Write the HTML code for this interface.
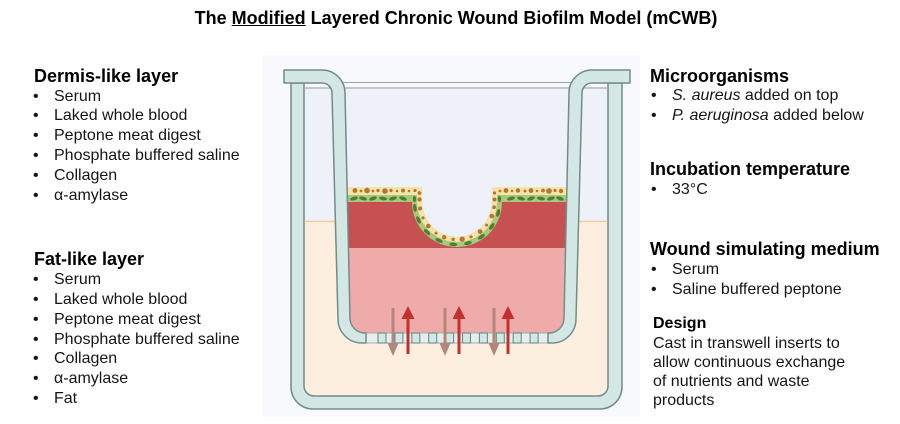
<!DOCTYPE html>
<html><head><meta charset="utf-8">
<style>
html,body{margin:0;padding:0;background:#fff;}
body{width:900px;height:424px;position:relative;overflow:hidden;font-family:"Liberation Sans",Arial,sans-serif;color:#151515;}
.t{position:absolute;left:0;width:912px;top:6.8px;text-align:center;font-weight:bold;font-size:18px;line-height:22px;color:#000;white-space:nowrap;}
.h{position:absolute;font-weight:bold;font-size:18px;line-height:22px;color:#000;white-space:nowrap;}
.h2{position:absolute;font-weight:bold;font-size:16px;line-height:20px;color:#000;white-space:nowrap;}
.lst{position:absolute;font-size:16px;line-height:19.9px;white-space:nowrap;}
.li{position:relative;padding-left:54px;}
.b{position:absolute;left:33px;top:0;}
.p{position:absolute;font-size:16px;line-height:19.1px;white-space:nowrap;}
svg{position:absolute;left:0;top:0;}
</style></head><body>
<svg width="900" height="424" viewBox="0 0 900 424">
<defs>
<clipPath id="ins"><path d="M345,83 L350,318 A15 15 0 0 0 365 333 H549 A15 15 0 0 0 564 318 L569,83 Z"/></clipPath>
</defs>
<rect x="262" y="55" width="378" height="362" fill="#f8f9fc"/>
<!-- outer well -->
<path d="M291,83 V387 A22 22 0 0 0 313 409 H600 A22 22 0 0 0 622 387 V83 Z" fill="#d3e7e5" stroke="#728c8a" stroke-width="1.5"/>
<path d="M304,83 V386 A10 10 0 0 0 314 396 H598 A10 10 0 0 0 608 386 V83 Z" fill="#fdefdf"/>
<rect x="304" y="83" width="304" height="5" fill="#f8f9fc"/>
<rect x="304" y="88" width="304" height="133" fill="#eff1f9"/>
<path d="M304,83 V386 A10 10 0 0 0 314 396 H598 A10 10 0 0 0 608 386 V83" fill="none" stroke="#728c8a" stroke-width="1.5"/>
<line x1="304" y1="88" x2="608" y2="88" stroke="#a3a9b0" stroke-width="1.2"/>
<line x1="305" y1="221.5" x2="607" y2="221.5" stroke="#f2cf9f" stroke-width="1.5"/>
<!-- insert contents -->
<g clip-path="url(#ins)">
<rect x="340" y="195" width="240" height="53" fill="#c55151"/>
<rect x="340" y="248" width="240" height="92" fill="#efabaa"/>
<path d="M340,195 H417 V202 A40 40 0 0 0 497 202 V195 H574 V202 H502 A45 45 0 0 1 412 202 H340 Z" fill="#a6c97b"/>
<path d="M340,187 H422 V202 A35 35 0 0 0 492 202 V187 H574 V195 H497 V202 A40 40 0 0 1 417 202 V195 H340 Z" fill="#f4e4aa"/>
<path d="M422,186 V202 A35 35 0 0 0 492 202 V186 Z" fill="#eff1f9"/>
<g fill="#b5772c">
<circle cx="355" cy="190.5" r="2.4"/><circle cx="361" cy="191" r="1.4"/><circle cx="367" cy="190.5" r="2.8"/><circle cx="373" cy="191" r="1.4"/><circle cx="378" cy="190.5" r="1.6"/><circle cx="385" cy="191" r="2.8"/><circle cx="391" cy="190.5" r="1.7"/><circle cx="397" cy="191" r="1.3"/><circle cx="403" cy="190.5" r="2"/><circle cx="409" cy="191" r="1.3"/><circle cx="415" cy="190.5" r="1.6"/>
<circle cx="419.5" cy="193" r="1.9"/><circle cx="419.5" cy="199.5" r="2.2"/><circle cx="494.5" cy="193" r="1.6"/><circle cx="494.5" cy="199.5" r="2"/>
<circle cx="500" cy="191" r="1.4"/><circle cx="506" cy="190.5" r="2.4"/><circle cx="512" cy="191" r="1.3"/><circle cx="518" cy="190.5" r="2.2"/><circle cx="525" cy="191" r="1.5"/><circle cx="531" cy="190.5" r="2.4"/><circle cx="537" cy="191" r="1.3"/><circle cx="543" cy="190.5" r="1.9"/><circle cx="549" cy="191" r="2.8"/><circle cx="555" cy="190.5" r="1.6"/><circle cx="561" cy="191" r="2.2"/>
<circle cx="494.1" cy="207.2" r="1.8"/><circle cx="491.8" cy="216.1" r="2.3"/><circle cx="486.6" cy="225.1" r="1.5"/><circle cx="480.1" cy="231.6" r="2.4"/><circle cx="471" cy="236.8" r="1.6"/><circle cx="462.2" cy="239.1" r="2.6"/><circle cx="453.1" cy="239.3" r="1.7"/><circle cx="444.2" cy="237.2" r="2.2"/><circle cx="436" cy="233.1" r="1.5"/><circle cx="428.3" cy="226.1" r="2.3"/><circle cx="423" cy="217.9" r="1.6"/><circle cx="420.1" cy="208.5" r="2"/>
</g>
<g fill="#4e7d34">
<ellipse cx="354" cy="198.5" rx="4" ry="1.8" transform="rotate(-15 354 198.5)"/>
<ellipse cx="363" cy="198.5" rx="4" ry="1.8" transform="rotate(15 363 198.5)"/>
<ellipse cx="373" cy="198.5" rx="4" ry="1.8" transform="rotate(-20 373 198.5)"/>
<ellipse cx="383" cy="198.5" rx="4" ry="1.8" transform="rotate(10 383 198.5)"/>
<ellipse cx="393" cy="198.5" rx="4" ry="1.8" transform="rotate(-15 393 198.5)"/>
<ellipse cx="403" cy="198.5" rx="4" ry="1.8" transform="rotate(20 403 198.5)"/>
<ellipse cx="414.5" cy="199" rx="1.6" ry="3.2" />
<ellipse cx="511" cy="198.5" rx="4" ry="1.8" transform="rotate(-15 511 198.5)"/>
<ellipse cx="521" cy="198.5" rx="4" ry="1.8" transform="rotate(15 521 198.5)"/>
<ellipse cx="531" cy="198.5" rx="4" ry="1.8" transform="rotate(-20 531 198.5)"/>
<ellipse cx="541" cy="198.5" rx="4" ry="1.8" transform="rotate(10 541 198.5)"/>
<ellipse cx="551" cy="198.5" rx="4" ry="1.8" transform="rotate(-15 551 198.5)"/>
<ellipse cx="560" cy="198.5" rx="4" ry="1.8" transform="rotate(20 560 198.5)"/>
<ellipse cx="499.5" cy="199" rx="1.6" ry="3.2" />
<ellipse cx="498.1" cy="213" rx="4" ry="1.8" transform="rotate(105 498.1 213)"/>
<ellipse cx="491.8" cy="226.4" rx="4" ry="1.8" transform="rotate(125 491.8 226.4)"/>
<ellipse cx="481.4" cy="236.8" rx="4" ry="1.8" transform="rotate(145 481.4 236.8)"/>
<ellipse cx="468" cy="243.1" rx="4" ry="1.8" transform="rotate(165 468 243.1)"/>
<ellipse cx="453.3" cy="244.3" rx="4" ry="1.8" transform="rotate(185 453.3 244.3)"/>
<ellipse cx="439" cy="240.5" rx="4" ry="1.8" transform="rotate(205 439 240.5)"/>
<ellipse cx="427" cy="232.1" rx="4" ry="1.8" transform="rotate(225 427 232.1)"/>
<ellipse cx="418.5" cy="220" rx="4" ry="1.8" transform="rotate(245 418.5 220)"/>
<ellipse cx="414.9" cy="207.9" rx="4" ry="1.8" transform="rotate(262 414.9 207.9)"/>
</g>
</g>
<!-- membrane -->
<rect x="365" y="333" width="184" height="10" fill="#e6eeec" stroke="#8fa3a1" stroke-width="0.8"/>
<g fill="#d3e7e5" stroke="#6f8b89" stroke-width="1.1">
<rect x="378" y="333" width="8" height="10"/><rect x="394.9" y="333" width="8" height="10"/><rect x="411.8" y="333" width="8" height="10"/><rect x="428.7" y="333" width="8" height="10"/><rect x="445.6" y="333" width="8" height="10"/><rect x="462.5" y="333" width="8" height="10"/><rect x="479.4" y="333" width="8" height="10"/><rect x="496.3" y="333" width="8" height="10"/><rect x="513.2" y="333" width="8" height="10"/><rect x="530.1" y="333" width="8" height="10"/>
</g>
<!-- insert walls -->
<path d="M284,70 H322 A23 23 0 0 1 345 93 L350,318 A15 15 0 0 0 365 333 H366 V343 H362 A24 24 0 0 1 338 319 L332,93 A10 10 0 0 0 322 83 H284 Z" fill="#d3e7e5" stroke="#728c8a" stroke-width="1.5" stroke-linejoin="round"/>
<path d="M630,70 H592 A23 23 0 0 0 569 93 L564,318 A15 15 0 0 1 549 333 H548 V343 H552 A24 24 0 0 0 576 319 L582,93 A10 10 0 0 1 592 83 H630 Z" fill="#d3e7e5" stroke="#728c8a" stroke-width="1.5" stroke-linejoin="round"/>
<!-- arrows -->
<g stroke="#b3867b" stroke-width="3" fill="#b3867b">
<line x1="393" y1="308" x2="393" y2="345"/><line x1="445" y1="308" x2="445" y2="345"/><line x1="494" y1="308" x2="494" y2="345"/>
</g>
<g fill="#b3867b">
<polygon points="387.5,343 398.5,343 393,356"/><polygon points="439.5,343 450.5,343 445,356"/><polygon points="488.5,343 499.5,343 494,356"/>
</g>
<g stroke="#c1312f" stroke-width="3">
<line x1="408" y1="316" x2="408" y2="354"/><line x1="459" y1="316" x2="459" y2="354"/><line x1="508" y1="316" x2="508" y2="354"/>
</g>
<g fill="#c1312f">
<polygon points="401.5,319 414.5,319 408,306"/><polygon points="452.5,319 465.5,319 459,306"/><polygon points="501.5,319 514.5,319 508,306"/>
</g>
</svg>

<div class="t">The <span style="text-decoration:underline">Modified</span> Layered Chronic Wound Biofilm Model (mCWB)</div>

<div class="h" style="left:34px;top:64.8px">Dermis-like layer</div>
<div class="lst" style="left:0;top:86.5px">
<div class="li"><span class="b">•</span>Serum</div>
<div class="li"><span class="b">•</span>Laked whole blood</div>
<div class="li"><span class="b">•</span>Peptone meat digest</div>
<div class="li"><span class="b">•</span>Phosphate buffered saline</div>
<div class="li"><span class="b">•</span>Collagen</div>
<div class="li"><span class="b">•</span>α-amylase</div>
</div>

<div class="h" style="left:34px;top:247.8px">Fat-like layer</div>
<div class="lst" style="left:0;top:270.2px;line-height:19.8px">
<div class="li"><span class="b">•</span>Serum</div>
<div class="li"><span class="b">•</span>Laked whole blood</div>
<div class="li"><span class="b">•</span>Peptone meat digest</div>
<div class="li"><span class="b">•</span>Phosphate buffered saline</div>
<div class="li"><span class="b">•</span>Collagen</div>
<div class="li"><span class="b">•</span>α-amylase</div>
<div class="li"><span class="b">•</span>Fat</div>
</div>

<div class="h" style="left:650px;top:64.8px">Microorganisms</div>
<div class="lst" style="left:618px;top:86.2px;line-height:20px">
<div class="li"><span class="b">•</span><i>S. aureus</i> added on top</div>
<div class="li"><span class="b">•</span><i>P. aeruginosa</i> added below</div>
</div>

<div class="h" style="left:650px;top:157.8px">Incubation temperature</div>
<div class="lst" style="left:618px;top:179.5px">
<div class="li"><span class="b">•</span>33°C</div>
</div>

<div class="h" style="left:650px;top:237.8px">Wound simulating medium</div>
<div class="lst" style="left:618px;top:259.5px;line-height:20px">
<div class="li"><span class="b">•</span>Serum</div>
<div class="li"><span class="b">•</span>Saline buffered peptone</div>
</div>

<div class="h2" style="left:653px;top:313.8px">Design</div>
<div class="p" style="left:653px;top:334.2px">Cast in transwell inserts to<br>allow continuous exchange<br>of nutrients and waste<br>products</div>
</body></html>
